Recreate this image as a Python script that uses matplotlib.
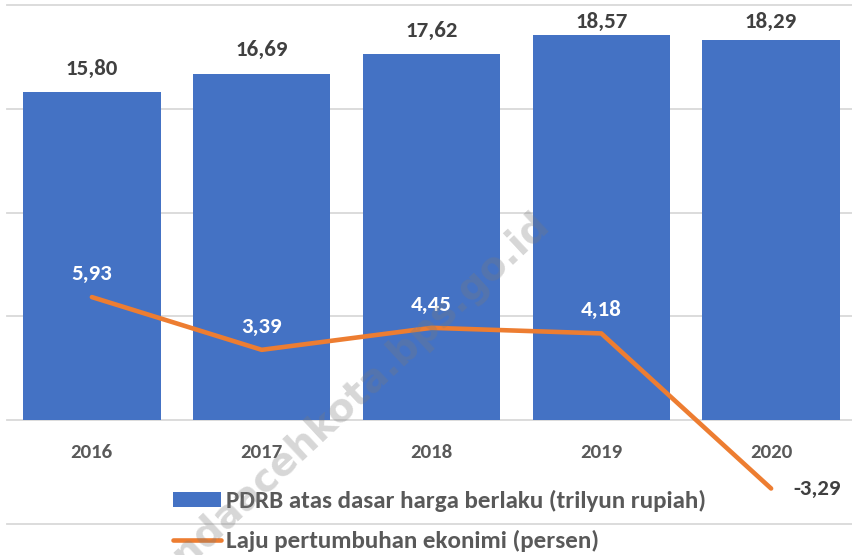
import matplotlib
matplotlib.use("Agg")
import matplotlib.pyplot as plt
from matplotlib.patches import Patch
from matplotlib.lines import Line2D

plt.rcParams['font.family'] = ['Carlito', 'Open Sans', 'DejaVu Sans']

years = ["2016", "2017", "2018", "2019", "2020"]
pdrb = [15.80, 16.69, 17.62, 18.57, 18.29]
growth = [5.93, 3.39, 4.45, 4.18, -3.29]
pdrb_name = "PDRB atas dasar harga berlaku (trilyun rupiah)"
growth_name = "Laju pertumbuhan ekonimi (persen)"
watermark = "bandaacehkota.bps.go.id"

BLUE = "#4472C4"
ORANGE = "#ED7D31"
GRAY = "#595959"
DARK = "#404040"

def fmt(v):
    return f"{v:.2f}".replace(".", ",")

W, H = 853, 555
fig = plt.figure(figsize=(W / 100, H / 100), dpi=100)
ax = fig.add_axes([7/W, 31/H, 849/W, 519/H])
ax.set_xlim(-0.5, 4.5)
ax.set_ylim(-5, 20)
for s in ax.spines.values():
    s.set_visible(False)
ax.set_xticks([])
ax.set_yticks([])
for g in [-5, 0, 5, 10, 15, 20]:
    ax.axhline(g, color="#D9D9D9", lw=1.3, zorder=0, clip_on=False)

x = list(range(len(years)))
ax.bar(x, pdrb, width=0.81, color=BLUE, zorder=2)
ax.plot(x, growth, color=ORANGE, lw=3.3, solid_capstyle="round", zorder=3)

fs_year = 15
fs_lab = 16.5
fs_leg = 18

fig.canvas.draw()
for i, v in enumerate(pdrb):
    ypix = H - ax.transData.transform((i, v))[1]   # from top
    off = min(17.5, ypix - 28)                      # keep label inside chart area
    ax.annotate(fmt(v), (i, v), xytext=(0, off), textcoords="offset pixels",
                ha="center", va="baseline", fontsize=fs_lab, fontweight="bold", color=DARK)
for i, v in enumerate(growth):
    if v >= 0:
        ax.annotate(fmt(v), (i, v), xytext=(0, 17), textcoords="offset pixels",
                    ha="center", va="baseline", fontsize=fs_lab, fontweight="bold",
                    color="white", zorder=5)
    else:
        ax.annotate(fmt(v), (i, v), xytext=(22, 0), textcoords="offset pixels",
                    ha="left", va="center", fontsize=fs_lab, fontweight="bold",
                    color=DARK, zorder=5)
for i, y in enumerate(years):
    ax.annotate(y, (i, 0), xytext=(0, -32), textcoords="offset pixels",
                ha="center", va="center", fontsize=fs_year, fontweight="bold", color=GRAY)

handles = [Patch(facecolor=BLUE, edgecolor="none"),
           Line2D([0], [0], color=ORANGE, lw=3.3, solid_capstyle="round")]
leg = fig.legend(handles, [pdrb_name, growth_name], loc="upper left",
                 bbox_to_anchor=(173/W, 1 - 490/H), frameon=False,
                 prop={"size": fs_leg, "weight": "bold"}, handlelength=1.92,
                 handleheight=0.56, handletextpad=0.2, labelspacing=0.72,
                 borderpad=0, borderaxespad=0)
for t in leg.get_texts():
    t.set_color(GRAY)

fig.text(551/W, 1 - 226/H, watermark, rotation=43, rotation_mode="anchor",
         ha="right", va="baseline", fontsize=28, fontweight="bold",
         family="DejaVu Sans", color="#7A7A7A", alpha=0.3, zorder=10)

fig.savefig("out.png", dpi=100)
